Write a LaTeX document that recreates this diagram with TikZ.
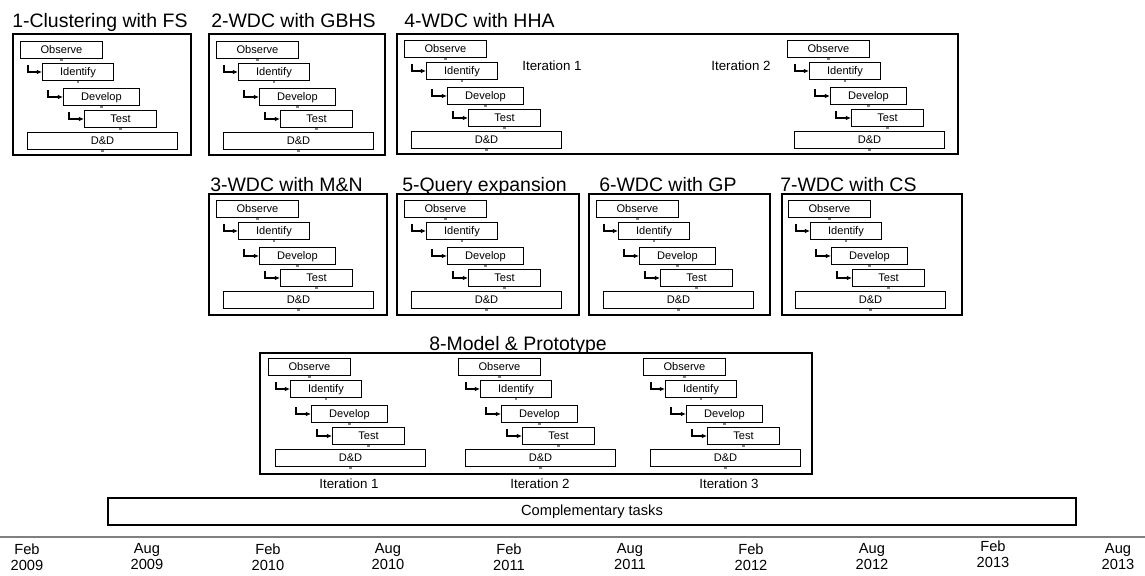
\documentclass[tikz,border=0pt]{standalone}
\usepackage{fontspec}
\setmainfont{Liberation Sans}
\usetikzlibrary{arrows.meta,calc}
\tikzset{
  task/.style={draw=black, line width=0.7pt, fill=white, anchor=north west, inner sep=0pt,
    minimum height=17*0.75pt, font=\fontsize{8.3}{9}\selectfont, text height=6.6pt, text depth=1pt},
  panel/.style={draw=black, line width=1.5pt, anchor=north west, inner sep=0pt},
  ptitle/.style={anchor=base west, inner sep=0pt, font=\fontsize{14.6}{16}\selectfont},
  link/.style={line width=1pt, -{Latex[length=3.8pt,width=3.4pt]}},
  tick/.style={fill=gray, draw=none, minimum size=1.6pt, inner sep=0pt},
  iterlabel/.style={font=\fontsize{10}{12}\selectfont, inner sep=0pt},
  datelabel/.style={font=\fontsize{11}{12}\selectfont, align=center, inner sep=0pt},
}
\newcommand\drawcycle[3]{%
  \node[task, minimum width=82*0.75pt] (#1o) at (#2,#3) {Observe};
  \node[task, minimum width=71*0.75pt] (#1i) at (#2+22,#3+22) {Identify};
  \node[task, minimum width=76*0.75pt] (#1d) at (#2+43,#3+47) {Develop};
  \node[task, minimum width=72*0.75pt] (#1t) at (#2+64,#3+69) {Test};
  \node[task, minimum width=150*0.75pt] (#1dd) at (#2+7,#3+91) {D\&D};
  \foreach \n in {o,i,d,t,dd} {\node[tick] at ([yshift=-0.6pt]#1\n.south) {};}
  \draw[link] ([xshift=-14*0.75pt,yshift=-2*0.75pt]#1i.north west) |- (#1i.west);
  \draw[link] ([xshift=-15*0.75pt,yshift=-2*0.75pt]#1d.north west) |- (#1d.west);
  \draw[link] ([xshift=-15*0.75pt,yshift=-2*0.75pt]#1t.north west) |- (#1t.west);
}
\begin{document}
\begin{tikzpicture}[x=0.75pt,y=-0.75pt]
\useasboundingbox (0,0) rectangle (1145,575);
% ---- row 1
\node[ptitle] (t1) at (12,27) {1-Clustering with FS};
\node[panel, minimum width=178*0.75pt, minimum height=121*0.75pt] (f1) at (12,33) {};
\drawcycle{a}{20}{41}
\node[ptitle] (t2) at (211,27) {2-WDC with GBHS};
\node[panel, minimum width=176*0.75pt, minimum height=121*0.75pt] (f2) at (208,33) {};
\drawcycle{b}{216}{41}
\node[ptitle] (t4) at (404,27) {4-WDC with HHA};
\node[panel, minimum width=561*0.75pt, minimum height=120*0.75pt] (f4) at (396,33) {};
\drawcycle{c}{404}{40}
\drawcycle{e}{787}{40}
\node[iterlabel] (i41) at (552,66) {Iteration 1};
\node[iterlabel] (i42) at (741,66) {Iteration 2};
% ---- row 2
\node[ptitle] (t3) at (210,191) {3-WDC with M\&N};
\node[panel, minimum width=178*0.75pt, minimum height=121*0.75pt] (f3) at (208,193) {};
\drawcycle{g}{216}{200}
\node[ptitle] (t5) at (402,191) {5-Query expansion};
\node[panel, minimum width=182*0.75pt, minimum height=121*0.75pt] (f5) at (396,193) {};
\drawcycle{h}{404}{200}
\node[ptitle] (t6) at (599,191) {6-WDC with GP};
\node[panel, minimum width=181*0.75pt, minimum height=121*0.75pt] (f6) at (588,193) {};
\drawcycle{k}{596}{200}
\node[ptitle] (t7) at (780,191) {7-WDC with CS};
\node[panel, minimum width=180*0.75pt, minimum height=121*0.75pt] (f7) at (781,193) {};
\drawcycle{m}{788}{200}
% ---- row 3
\node[ptitle] (t8) at (429,350) {8-Model \& Prototype};
\node[panel, minimum width=552*0.75pt, minimum height=121*0.75pt] (f8) at (259,352) {};
\drawcycle{p}{268}{358}
\drawcycle{q}{458}{358}
\drawcycle{r}{643}{358}
\node[iterlabel] (i81) at (349,484) {Iteration 1};
\node[iterlabel] (i82) at (540,484) {Iteration 2};
\node[iterlabel] (i83) at (729,484) {Iteration 3};
% ---- complementary
\node[panel, minimum width=968*0.75pt, minimum height=27*0.75pt, font=\fontsize{11}{12}\selectfont] (ct) at (107,497) {Complementary tasks};
% ---- timeline
\coordinate (tl) at (0,537);
\coordinate (tr) at (1145,537);
\draw[gray, line width=1.5pt] (tl) -- (tr);
\node[datelabel] (d1) at (27,557) {Feb\\2009};
\node[datelabel] (d2) at (147,557) {Aug\\2009};
\node[datelabel] (d3) at (268,557) {Feb\\2010};
\node[datelabel] (d4) at (388,557) {Aug\\2010};
\node[datelabel] (d5) at (509,557) {Feb\\2011};
\node[datelabel] (d6) at (630,557) {Aug\\2011};
\node[datelabel] (d7) at (751,557) {Feb\\2012};
\node[datelabel] (d8) at (872,557) {Aug\\2012};
\node[datelabel] (d9) at (993,554) {Feb\\2013};
\node[datelabel] (d10) at (1118,557) {Aug\\2013};
\end{tikzpicture}
\end{document}
